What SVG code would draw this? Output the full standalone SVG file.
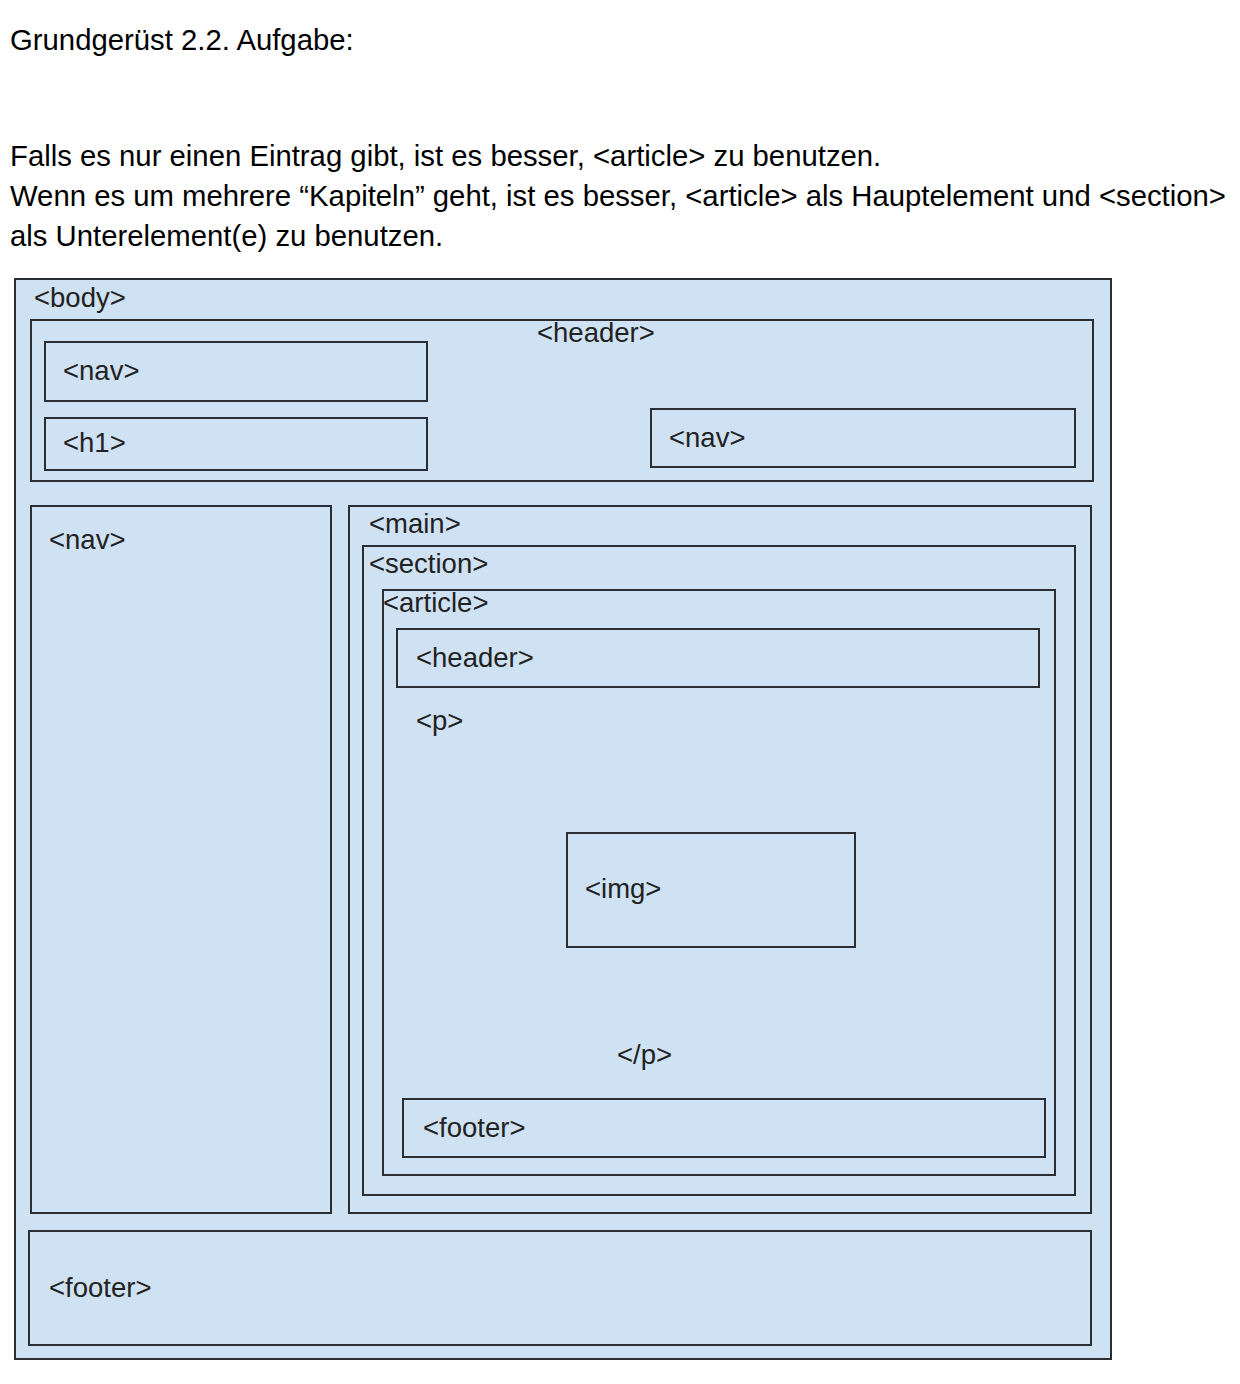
<svg xmlns="http://www.w3.org/2000/svg" width="1240" height="1384" viewBox="0 0 1240 1384">
<style>
.bx{fill:#cfe2f3;stroke:#2b2f33;stroke-width:2}
.t{font-family:"Liberation Sans",Arial,sans-serif;font-size:29.3px;fill:#000}
.l{font-family:"Liberation Sans",Arial,sans-serif;font-size:27.5px;fill:#222}
</style>
<rect width="1240" height="1384" fill="#fff"/>
<g id="intro">
<text class="t" x="10" y="50">Grundgerüst 2.2. Aufgabe:</text>
<text class="t" x="10" y="166">Falls es nur einen Eintrag gibt, ist es besser, &lt;article&gt; zu benutzen.</text>
<text class="t" x="10" y="206">Wenn es um mehrere “Kapiteln” geht, ist es besser, &lt;article&gt; als Hauptelement und &lt;section&gt;</text>
<text class="t" x="10" y="246">als Unterelement(e) zu benutzen.</text>
</g>
<g id="body"><rect class="bx" x="15" y="279" width="1096" height="1080"/><text class="l" x="34" y="307">&lt;body&gt;</text></g>
<g id="header"><rect class="bx" x="31" y="320" width="1062" height="161"/><text class="l" x="537" y="342">&lt;header&gt;</text></g>
<g id="nav-top"><rect class="bx" x="45" y="342" width="382" height="59"/><text class="l" x="63" y="380">&lt;nav&gt;</text></g>
<g id="h1"><rect class="bx" x="45" y="418" width="382" height="52"/><text class="l" x="63" y="452">&lt;h1&gt;</text></g>
<g id="nav-right"><rect class="bx" x="651" y="409" width="424" height="58"/><text class="l" x="669" y="447">&lt;nav&gt;</text></g>
<g id="nav-left"><rect class="bx" x="31" y="506" width="300" height="707"/><text class="l" x="49" y="549">&lt;nav&gt;</text></g>
<g id="main"><rect class="bx" x="349" y="506" width="742" height="707"/><text class="l" x="369" y="533">&lt;main&gt;</text></g>
<g id="section"><rect class="bx" x="363" y="546" width="712" height="649"/><text class="l" x="369" y="573">&lt;section&gt;</text></g>
<g id="article"><rect class="bx" x="383" y="590" width="672" height="585"/><text class="l" x="383" y="612">&lt;article&gt;</text></g>
<g id="article-header"><rect class="bx" x="397" y="629" width="642" height="58"/><text class="l" x="416" y="667">&lt;header&gt;</text></g>
<g id="p"><text class="l" x="416" y="730">&lt;p&gt;</text><text class="l" x="617" y="1064">&lt;/p&gt;</text></g>
<g id="img"><rect class="bx" x="567" y="833" width="288" height="114"/><text class="l" x="585" y="898">&lt;img&gt;</text></g>
<g id="article-footer"><rect class="bx" x="403" y="1099" width="642" height="58"/><text class="l" x="423" y="1137">&lt;footer&gt;</text></g>
<g id="footer"><rect class="bx" x="29" y="1231" width="1062" height="114"/><text class="l" x="49" y="1297">&lt;footer&gt;</text></g>
<g id="connectors"/>
</svg>
